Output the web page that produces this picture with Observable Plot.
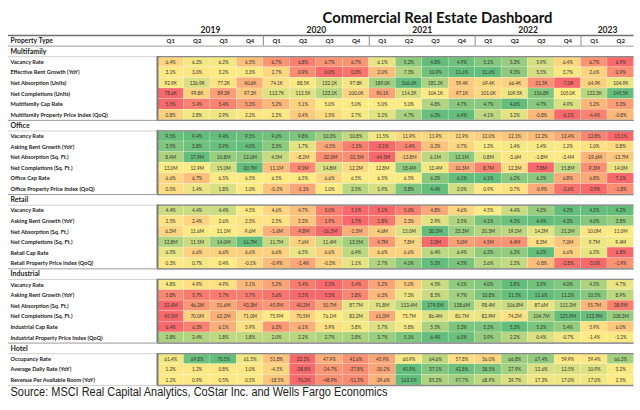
<!DOCTYPE html>
<html><head><meta charset="utf-8">
<script src="https://cdn.jsdelivr.net/npm/d3@7"></script>
<script src="https://cdn.jsdelivr.net/npm/@observablehq/plot@0.6"></script>
<style>html,body{margin:0;padding:0;background:#fff;}</style>
</head><body><div id="chart"></div>
<script>
const title = "Commercial Real Estate Dashboard";
const source = "Source: MSCI Real Capital Analytics, CoStar Inc. and Wells Fargo Economics";
const headerLabel = "Property Type";
const years = ["2019", "2020", "2021", "2022", "2023"];
const quartersPerYear = [4, 4, 4, 4, 2];
const quarterLabels = ["Q1","Q2","Q3","Q4","Q1","Q2","Q3","Q4","Q1","Q2","Q3","Q4","Q1","Q2","Q3","Q4","Q1","Q2"];
const sections = ["Multifamily", "Office", "Retail", "Industrial", "Hotel"];

// Multifamily
const multifamilyVacancy = [6.4,6.2,6.2,6.5,6.7,6.8,6.7,6.7,6.1,5.2,4.8,4.9,5.1,5.3,5.9,6.4,6.7,6.9];
const multifamilyRentGrowth = [3.1,3.0,3.2,3.3,2.7,0.9,0.0,0.3,2.0,7.3,10.9,11.6,11.6,9.3,5.5,3.7,2.6,0.9];
const multifamilyAbsorption = [92.9,126.9,77.2,40.6,74.1,88.5,132.1,97.8,189.0,266.6,181.2,59.4,69.4,66.4,21.5,-7.0,64.9,104.9];
const multifamilyCompletions = [78.6,99.8,89.2,97.3,113.7,112.5,123.1,100.0,90.1,114.2,104.1,97.1,101.0,109.5,136.8,105.0,122.3,145.5];
const multifamilyCapRate = [5.5,5.4,5.4,5.3,5.2,5.1,5.0,5.0,5.0,5.0,4.8,4.7,4.7,4.6,4.7,4.9,5.2,5.3];
const multifamilyPriceIndex = [0.8,2.8,2.9,2.2,2.3,0.4,1.5,2.7,3.2,4.7,6.3,6.4,4.1,3.2,-0.8,-6.1,-4.4,-0.8];
// Office
const officeVacancy = [9.5,9.4,9.4,9.5,9.6,9.8,10.3,10.8,11.5,11.9,11.9,11.9,12.0,12.1,12.2,12.4,12.8,13.1];
const officeRentGrowth = [3.5,3.8,3.9,4.0,3.3,1.7,-0.5,-1.5,-2.1,-1.4,0.2,0.7,1.3,1.4,1.4,1.2,1.0,0.8];
const officeAbsorption = [8.4,17.9,10.8,12.6,4.5,-8.2,-32.0,-32.5,-44.5,-13.8,6.1,12.1,0.8,-3.6,-1.8,-3.4,-19.6,-13.7];
const officeCompletions = [13.0,12.9,15.0,20.7,11.1,9.1,14.8,12.2,12.8,18.4,13.4,10.3,8.7,12.3,7.8,15.8,9.3,14.0];
const officeCapRate = [6.6,6.7,6.5,6.5,6.5,6.5,6.6,6.5,6.5,6.5,6.2,6.1,6.1,6.2,6.2,6.8,6.8,7.1];
const officePriceIndex = [0.5,1.4,1.8,1.0,-0.2,-1.1,1.0,2.5,1.9,3.8,4.4,2.0,0.9,0.7,-0.9,-2.6,-2.9,-1.8];
// Retail
const retailVacancy = [4.4,4.4,4.4,4.5,4.6,4.7,5.0,5.1,5.1,5.0,4.8,4.6,4.5,4.4,4.3,4.2,4.2,4.2];
const retailRentGrowth = [2.5,2.4,2.6,2.5,2.5,2.3,1.9,1.7,1.8,2.3,2.9,3.5,4.1,4.3,4.4,4.3,4.0,3.8];
const retailAbsorption = [6.3,11.6,11.1,9.6,-1.6,-9.8,-16.5,-1.5,4.6,15.0,30.2,23.3,20.3,19.1,14.2,21.2,10.0,11.0];
const retailCompletions = [12.8,11.5,14.0,16.7,11.7,7.6,11.4,13.5,4.7,7.8,2.3,5.0,4.5,4.4,8.3,7.0,9.7,9.4];
const retailCapRate = [6.5,6.6,6.6,6.6,6.6,6.5,6.6,6.4,6.6,6.6,6.4,6.4,6.3,6.3,6.2,6.6,6.5,6.8];
const retailPriceIndex = [0.3,0.7,0.4,-0.1,-0.9,-1.4,-0.3,1.1,2.7,4.0,5.2,4.5,2.6,2.2,-0.8,-2.8,-3.0,-1.9];
// Industrial
const industrialVacancy = [4.8,4.9,4.9,5.1,5.2,5.4,5.5,5.4,5.2,5.0,4.5,4.1,4.0,3.8,3.9,4.0,4.3,4.7];
const industrialRentGrowth = [5.8,5.7,5.7,5.7,5.6,5.5,5.5,5.8,6.3,7.3,8.5,9.7,10.8,11.5,11.6,11.2,10.5,8.9];
const industrialAbsorption = [32.4,46.2,51.6,43.3,45.9,40.2,50.7,87.7,91.8,113.4,174.5,138.6,98.4,106.8,87.6,112.2,55.7,38.9];
const industrialCompletions = [45.5,70.0,62.2,71.0,75.9,70.5,76.1,82.2,61.0,75.7,86.4,80.7,82.9,74.2,104.7,125.9,123.9,108.3];
const industrialCapRate = [6.4,6.3,6.1,5.9,6.2,6.1,5.9,5.8,5.7,5.8,5.5,5.3,5.3,5.2,5.3,5.4,5.9,6.0];
const industrialPriceIndex = [2.8,2.4,1.8,1.8,2.0,2.2,2.7,2.8,3.7,5.1,6.4,6.0,3.9,2.2,0.4,-0.7,-1.4,-1.2];
// Hotel
const hotelOccupancy = [61.4,69.8,70.5,61.5,51.8,33.2,47.9,41.6,45.9,60.9,64.6,57.8,56.0,66.8,67.4,59.9,59.4,66.3];
const hotelADR = [1.2,1.2,0.8,1.0,-4.5,-38.8,-24.7,-27.8,-20.2,45.9,37.1,42.8,38.5,27.9,12.6,12.5,10.9,3.2];
const hotelRevPAR = [1.1,0.9,0.5,0.5,-18.5,-70.3,-48.9,-51.5,-29.6,163.5,85.3,97.7,68.9,39.7,17.3,17.0,17.0,2.5];

const metricRows = [
  ["Multifamily", "Vacancy Rate", multifamilyVacancy, "%", "low"],
  ["Multifamily", "Effective Rent Growth (YoY)", multifamilyRentGrowth, "%", "high"],
  ["Multifamily", "Net Absorption (Units)", multifamilyAbsorption, "K", "high"],
  ["Multifamily", "Net Completions (Units)", multifamilyCompletions, "K", "high"],
  ["Multifamily", "Multifamily Cap Rate", multifamilyCapRate, "%", "low"],
  ["Multifamily", "Multifamily Property Price Index (QoQ)", multifamilyPriceIndex, "%", "high"],
  ["Office", "Vacancy Rate", officeVacancy, "%", "low"],
  ["Office", "Asking Rent Growth (YoY)", officeRentGrowth, "%", "high"],
  ["Office", "Net Absorption (Sq. Ft.)", officeAbsorption, "M", "high"],
  ["Office", "Net Completions (Sq. Ft.)", officeCompletions, "M", "high"],
  ["Office", "Office Cap Rate", officeCapRate, "%", "low"],
  ["Office", "Office Property Price Index (QoQ)", officePriceIndex, "%", "high"],
  ["Retail", "Vacancy Rate", retailVacancy, "%", "low"],
  ["Retail", "Asking Rent Growth (YoY)", retailRentGrowth, "%", "high"],
  ["Retail", "Net Absorption (Sq. Ft.)", retailAbsorption, "M", "high"],
  ["Retail", "Net Completions (Sq. Ft.)", retailCompletions, "M", "high"],
  ["Retail", "Retail Cap Rate", retailCapRate, "%", "low"],
  ["Retail", "Retail Property Price Index (QoQ)", retailPriceIndex, "%", "high"],
  ["Industrial", "Vacancy Rate", industrialVacancy, "%", "low"],
  ["Industrial", "Asking Rent Growth (YoY)", industrialRentGrowth, "%", "high"],
  ["Industrial", "Net Absorption (Sq. Ft.)", industrialAbsorption, "M", "high"],
  ["Industrial", "Net Completions (Sq. Ft.)", industrialCompletions, "M", "high"],
  ["Industrial", "Industrial Cap Rate", industrialCapRate, "%", "low"],
  ["Industrial", "Industrial Property Price Index (QoQ)", industrialPriceIndex, "%", "twoColor"],
  ["Hotel", "Occupancy Rate", hotelOccupancy, "%", "high"],
  ["Hotel", "Average Daily Rate (YoY)", hotelADR, "%", "high"],
  ["Hotel", "Revenue Per Available Room (YoY)", hotelRevPAR, "%", "high"]
];

// ---- build layout from the data ----
const nCols = quarterLabels.length;
let r = 1; // row 0 = header
const sectionRows = [], labelRows = [], cells = [], blocks = [];
for (const s of sections) {
  sectionRows.push({label: s, row: r});
  const metrics = metricRows.filter(m => m[0] === s);
  blocks.push({start: r + 1, end: r + 1 + metrics.length});
  r++;
  for (const [, label, values, unit, better] of metrics) {
    labelRows.push({label, row: r});
    const mn = d3.min(values), mx = d3.max(values), md = d3.median(values);
    values.forEach((v, i) => {
      let t;
      if (better === "twoColor") t = 0.5 + 0.5 * (v - mn) / (mx - mn);
      else {
        t = v <= md ? 0.5 * (v - mn) / (md - mn || 1) : 0.5 + 0.5 * (v - md) / (mx - md || 1);
        if (better === "low") t = 1 - t;
      }
      cells.push({row: r, col: i, t, text: v.toFixed(1) + unit});
    });
    r++;
  }
}
const nRows = r;
const yearCells = [];
let c0 = 0;
years.forEach((y, i) => { yearCells.push({label: y, start: c0, end: c0 + quartersPerYear[i]}); c0 += quartersPerYear[i]; });
const quarterCells = quarterLabels.map((q, i) => ({label: q, col: i}));
const sectionTopLines = sectionRows.map(s => s.row);
const sectionBottomLines = sectionRows.map(s => s.row + 1);

const font = "Lato, 'Open Sans', sans-serif";
const chart = Plot.plot({
  width: 640, height: 410,
  marginLeft: 157, marginRight: 6.5, marginTop: 35, marginBottom: 25,
  x: {domain: [0, nCols], axis: null},
  y: {domain: [0, nRows], reverse: true, axis: null},
  color: {type: "linear", domain: [0, 0.5, 1], range: ["#F8696B", "#FFEB84", "#63BE7B"], interpolate: "rgb"},
  style: {fontFamily: font, color: "#222", background: "#fff"},
  marks: [
    Plot.rect(cells, {x1: "col", x2: d => d.col + 1, y1: "row", y2: d => d.row + 1, fill: "t",
      stroke: "#fff", strokeOpacity: 0.35, strokeWidth: 0.5}),
    Plot.text(cells, {x: d => d.col + 0.5, y: d => d.row + 0.5, text: "text", fontSize: 4.7, fill: "#333"}),
    // lines
    Plot.ruleY(sectionTopLines, {stroke: "#9a9a9a", strokeWidth: 1, insetLeft: -149}),
    Plot.ruleY(sectionBottomLines, {stroke: "#c8c8c8", strokeWidth: 0.8, insetLeft: -149}),
    Plot.ruleY([nRows], {stroke: "#c8c8c8", strokeWidth: 0.8, insetLeft: -149}),
    Plot.ruleY([0], {stroke: "#6f6f6f", strokeWidth: 1.5, insetLeft: -149}),
    Plot.ruleY(blocks.flatMap(b => [b.start, b.end]), {stroke: "#8a8a8a", strokeWidth: 1.3}),
    Plot.ruleX(blocks, {x: () => 0, y1: "start", y2: "end", stroke: "#7a7a7a", strokeWidth: 2}),
    Plot.ruleX(yearCells.slice(1), {x: "start", y1: () => 0, y2: () => 1, stroke: "#8a8a8a", strokeWidth: 1}),
    // header texts
    Plot.text(yearCells, {x: d => (d.start + d.end) / 2, y: () => -0.5, text: "label", fontSize: 8.5, fontWeight: "bold", fill: "#222"}),
    Plot.text(quarterCells, {x: d => d.col + 0.5, y: () => 0.5, text: "label", fontSize: 6, fontWeight: "bold", fill: "#222"}),
    Plot.text([headerLabel], {y: () => 0.5, frameAnchor: "left", dx: -147, textAnchor: "start", fontSize: 6.8, fontWeight: "bold", fill: "#222"}),
    Plot.text(sectionRows, {y: d => d.row + 0.5, text: "label", frameAnchor: "left", dx: -147, textAnchor: "start", fontSize: 7, fontWeight: "bold", fill: "#222"}),
    Plot.text(labelRows, {y: d => d.row + 0.5, text: "label", frameAnchor: "left", dx: -147, textAnchor: "start", fontSize: 5.6, fontWeight: "bold", fill: "#222"}),
    Plot.text([title], {frameAnchor: "top-left", dx: 165, dy: -23, fontSize: 14.5, fontWeight: "bold", fill: "#111"}),
    Plot.text([source], {frameAnchor: "bottom-left", dx: -147, dy: 10, textAnchor: "start", fontSize: 12.5, fill: "#222",
      fontFamily: "'Liberation Sans', Arial, sans-serif"})
  ]
});
chart.querySelectorAll("text").forEach(t => {
  if (t.textContent === source) { t.setAttribute("textLength", 377); t.setAttribute("lengthAdjust", "spacingAndGlyphs"); }
  if (t.textContent === title) { t.setAttribute("textLength", 230); t.setAttribute("lengthAdjust", "spacingAndGlyphs"); }
});
document.getElementById("chart").appendChild(chart);
</script>
</body></html>
